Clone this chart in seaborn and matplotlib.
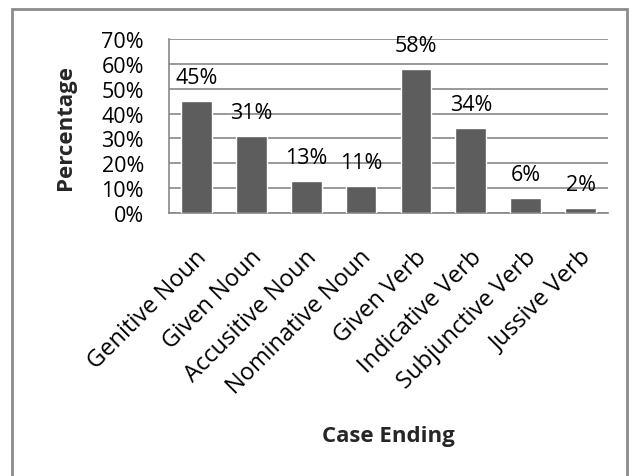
import matplotlib
matplotlib.use("Agg")
import matplotlib.pyplot as plt
from matplotlib.patches import Rectangle
from matplotlib.ticker import FuncFormatter, MultipleLocator
from matplotlib.transforms import ScaledTranslation
import seaborn as sns
import pandas as pd

categories = ["Genitive Noun", "Given Noun", "Accusitive Noun", "Nominative Noun",
              "Given Verb", "Indicative Verb", "Subjunctive Verb", "Jussive Verb"]
percentages = [45, 31, 13, 11, 58, 34, 6, 2]
value_labels = ["45%", "31%", "13%", "11%", "58%", "34%", "6%", "2%"]

sns.set_theme(style="white")
plt.rcParams["font.family"] = ["Open Sans", "DejaVu Sans"]

df = pd.DataFrame({"Case Ending": categories, "Share": [p / 100 for p in percentages]})

W, H = 638, 477
fig = plt.figure(figsize=(W / 100, H / 100), dpi=100)
ax = fig.add_axes([169 / W, 1 - 214 / H, 439 / W, 174 / H])

sns.barplot(data=df, x="Case Ending", y="Share", color="#5d5d5d", saturation=1,
            width=0.56, ax=ax, zorder=3)

ax.set_ylim(0, 0.70)
ax.set_xlim(-0.5, len(categories) - 0.5)
ax.yaxis.set_major_locator(MultipleLocator(0.10))
ax.yaxis.set_major_formatter(FuncFormatter(lambda v, _: f"{v * 100:.0f}%"))
ax.grid(axis="y", color="#888888", linewidth=1.2, zorder=0)
ax.grid(axis="x", visible=False)

for side in ("top", "right"):
    ax.spines[side].set_visible(False)
for side in ("left", "bottom"):
    ax.spines[side].set_color("#888888")
    ax.spines[side].set_linewidth(1.2)

ax.tick_params(axis="y", length=0, pad=18, labelsize=15.5, labelcolor="black")
ax.tick_params(axis="x", length=0, pad=0, labelsize=17, labelcolor="black")

# rotated category names, shifted so their ends sit just right of each bar, below the axis
shift = ScaledTranslation(7 / 100, -40 / 100, fig.dpi_scale_trans)
for lab in ax.get_xticklabels():
    lab.set_rotation(45)
    lab.set_rotation_mode("anchor")
    lab.set_ha("right")
    lab.set_va("center")
    lab.set_transform(lab.get_transform() + shift)

ax.set_xlabel("")
ax.set_ylabel("")

for i, (p, txt) in enumerate(zip(percentages, value_labels)):
    ax.annotate(txt, xy=(i, p / 100), xytext=(0, 13), textcoords="offset points",
                ha="center", va="baseline", fontsize=15.5, color="black",
                annotation_clip=False, zorder=4)

fig.text(65 / W, 1 - 128 / H, "Percentage", rotation=90, ha="center", va="center",
         fontsize=16, fontweight="bold")
fig.text(388 / W, 1 - 437 / H, "Case Ending", ha="center", va="center",
         fontsize=16, fontweight="bold")

fig.patches.append(Rectangle((12 / W, -0.05), 615 / W, 1.05 - 10 / H,
                             transform=fig.transFigure, fill=False,
                             edgecolor="#8c8c8c", linewidth=2))

fig.savefig("out.png", dpi=100, facecolor="white")
